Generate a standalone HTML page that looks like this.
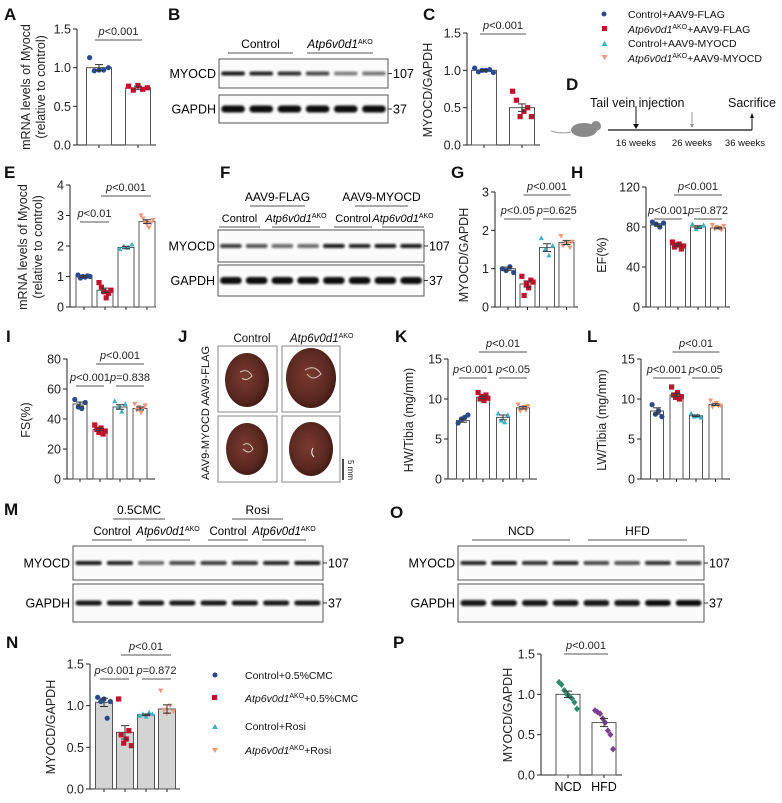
<!DOCTYPE html>
<html><head><meta charset="utf-8"><style>
body{margin:0;background:#fff}
svg{display:block;font-family:"Liberation Sans",Arial,sans-serif}
</style></head><body>
<svg id="fig" width="782" height="803" viewBox="0 0 782 803" xmlns="http://www.w3.org/2000/svg">
<defs>
<filter id="blur" x="-20%" y="-100%" width="140%" height="300%"><feGaussianBlur stdDeviation="1.1"/></filter>
<radialGradient id="heart" cx="45%" cy="45%" r="60%"><stop offset="0" stop-color="#7a3a30"/><stop offset="0.7" stop-color="#5a2820"/><stop offset="1" stop-color="#3a1812"/></radialGradient>
</defs>
<g id="static" font-size="11" fill="#111">
<g font-weight="bold" font-size="17">
<text x="4" y="20">A</text><text x="168" y="20">B</text><text x="423" y="20">C</text><text x="566" y="90">D</text>
<text x="4" y="178">E</text><text x="220" y="178">F</text><text x="451" y="178">G</text><text x="571" y="178">H</text>
<text x="6" y="342">I</text><text x="178" y="342">J</text><text x="395" y="342">K</text><text x="587" y="342">L</text>
<text x="4" y="515">M</text><text x="390" y="518">O</text><text x="6" y="648">N</text><text x="393" y="648">P</text>
</g>
<g font-size="10.5">
<circle cx="604" cy="14" r="2.5" fill="#2b4a8b"/><text x="628" y="18">Control+AAV9-FLAG</text>
<rect x="602" y="26" width="5" height="5" fill="#c0132b"/><text x="628" y="33"><tspan font-style="italic">Atp6v0d1</tspan><tspan font-size="7" dy="-4">AKO</tspan><tspan dy="4">+AAV9-FLAG</tspan></text>
<path d="M601.5 46 L604.5 41 L607.5 46Z" fill="#3fb0c9"/><text x="628" y="47">Control+AAV9-MYOCD</text>
<path d="M601.5 55 L604.5 60 L607.5 55Z" fill="#f4967a"/><text x="628" y="62"><tspan font-style="italic">Atp6v0d1</tspan><tspan font-size="7" dy="-4">AKO</tspan><tspan dy="4">+AAV9-MYOCD</tspan></text>
</g>
<g>
<ellipse cx="584" cy="130" rx="13" ry="7" fill="#8a8a8a"/><circle cx="596" cy="126" r="5" fill="#8a8a8a"/><path d="M571 132 Q560 134 551 131" stroke="#aaa" fill="none" stroke-width="1.2"/>
<line x1="608" y1="130" x2="752" y2="130" stroke="#111" stroke-width="1.3"/>
<line x1="636" y1="106" x2="636" y2="127" stroke="#111"/><path d="M633 124 L636 129 L639 124Z"/>
<line x1="692" y1="112" x2="692" y2="127" stroke="#999"/><path d="M690 124 L692 128 L694 124Z" fill="#999"/>
<line x1="752" y1="130" x2="752" y2="115" stroke="#111"/><path d="M750 118 L752 113 L754 118Z"/>
<text x="590" y="107" font-size="12.5">Tail vein injection</text>
<text x="728" y="107" font-size="12.5">Sacrifice</text>
<g font-size="9.5"><text x="636" y="146" text-anchor="middle">16 weeks</text><text x="692" y="146" text-anchor="middle">26 weeks</text><text x="745" y="146" text-anchor="middle">36 weeks</text></g>
</g>
<g>
<text x="252" y="342" text-anchor="middle" font-size="11.5">Control</text>
<text x="290" y="342" font-size="11.5" font-style="italic">Atp6v0d1<tspan font-size="7" dy="-4" font-style="normal">AKO</tspan></text>
<text transform="rotate(-90 209 413)" x="209" y="413" text-anchor="middle" font-size="11">AAV9-MYOCD AAV9-FLAG</text>
<rect x="218" y="346" width="59" height="66" fill="#fff" stroke="#888"/><rect x="282" y="346" width="58" height="66" fill="#fff" stroke="#888"/>
<rect x="218" y="416" width="59" height="66" fill="#fff" stroke="#888"/><rect x="282" y="416" width="58" height="66" fill="#fff" stroke="#888"/>
<ellipse cx="247" cy="380" rx="22" ry="27" fill="url(#heart)"/><ellipse cx="311" cy="378" rx="25" ry="30" fill="url(#heart)"/>
<ellipse cx="247" cy="449" rx="21" ry="26" fill="url(#heart)"/><ellipse cx="311" cy="449" rx="22" ry="27" fill="url(#heart)"/>
<path d="M240 372 q8 -4 12 4 q-6 6 -10 2" stroke="#d9c4b8" fill="none"/><path d="M305 370 q10 -6 16 4 q-8 8 -14 0" stroke="#d9c4b8" fill="none"/>
<path d="M243 445 q6 -4 10 4 q-4 6 -10 0" stroke="#d9c4b8" fill="none"/><path d="M313 448 q-3 5 1 9" stroke="#eee" fill="none"/>
<line x1="343" y1="459" x2="343" y2="480" stroke="#111" stroke-width="1.5"/>
<text transform="rotate(90 348 460)" x="348" y="460" font-size="8">5 mm</text>
</g>
<g font-size="10.5">
<circle cx="215" cy="675" r="2.5" fill="#2b4a8b"/><text x="245" y="679">Control+0.5%CMC</text>
<rect x="212" y="695" width="5" height="5" fill="#c0132b"/><text x="245" y="702"><tspan font-style="italic">Atp6v0d1</tspan><tspan font-size="7" dy="-4">AKO</tspan><tspan dy="4">+0.5%CMC</tspan></text>
<path d="M212 729 L215 724 L218 729Z" fill="#3fb0c9"/><text x="245" y="730">Control+Rosi</text>
<path d="M212 748 L215 753 L218 748Z" fill="#f4967a"/><text x="245" y="754"><tspan font-style="italic">Atp6v0d1</tspan><tspan font-size="7" dy="-4">AKO</tspan><tspan dy="4">+Rosi</tspan></text>
</g>
</g>
<g id="dyn"></g>
</svg>
<script>
// ---------- DATA ----------
const aCats = ["Control", "Atp6v0d1AKO"];
const aMeans = [1.0, 0.74];
const aSems = [0.04, 0.02];
const aPts = [[1.13, 0.96, 0.97, 0.97, 1.0], [0.76, 0.71, 0.77, 0.72, 0.74]];
const aTicks = [0, 0.5, 1.0, 1.5];
const aTickLabels = ["0.0", "0.5", "1.0", "1.5"];

const cMeans = [1.0, 0.5];
const cSems = [0.01, 0.05];
const cPts = [[1.03, 0.98, 1.0, 1.0, 1.01, 0.97], [0.72, 0.6, 0.38, 0.45, 0.5, 0.38]];

const eMeans = [1.0, 0.55, 1.95, 2.8];
const eSems = [0.03, 0.07, 0.04, 0.06];
const ePts = [[1.05, 0.95, 1.0, 0.98, 1.02, 1.0], [0.8, 0.65, 0.5, 0.3, 0.45, 0.55], [1.9, 2.0, 1.95, 2.05], [3.0, 2.9, 2.8, 2.7, 2.6, 2.75, 2.85]];
const eTicks = [0, 1, 2, 3, 4];

const gMeans = [1.0, 0.6, 1.55, 1.68];
const gSems = [0.04, 0.08, 0.1, 0.05];
const gPts = [[1.0, 0.95, 1.05, 0.9], [0.8, 0.3, 0.6, 0.5, 0.7, 0.65], [1.8, 1.5, 1.35, 1.6], [1.85, 1.6, 1.7, 1.65, 1.55, 1.7]];
const gTicks = [0, 1, 2, 3];

const hMeans = [82, 62, 80, 79];
const hSems = [1.2, 1.0, 1.2, 0.8];
const hPts = [[85, 83, 80, 84], [65, 60, 62, 63, 58, 61], [83, 78, 80, 82], [82, 78, 80, 79, 77, 81]];
const hTicks = [0, 40, 80, 120];

const iMeans = [50, 33, 48, 47];
const iSems = [1.3, 0.8, 1.5, 1.0];
const iPts = [[53, 48, 47, 51], [36, 33, 31, 34, 30, 32], [52, 48, 45, 50], [50, 46, 48, 44, 47, 49]];
const iTicks = [0, 20, 40, 60, 80];

const kMeans = [7.3, 10.2, 7.7, 8.9];
const kSems = [0.2, 0.15, 0.3, 0.15];
const kPts = [[7.0, 7.5, 7.7, 8.0], [10.8, 10.0, 10.3, 9.8, 10.5, 10.1], [8.2, 7.3, 7.1, 8.0], [9.3, 8.5, 8.8, 9.0, 8.6, 9.1]];
const lMeans = [8.5, 10.5, 7.9, 9.3];
const lSems = [0.4, 0.2, 0.1, 0.1];
const lPts = [[9.3, 8.1, 8.5, 7.8], [11.5, 10.5, 10.2, 10.8, 10.0, 10.3], [8.2, 7.8, 7.9, 7.7], [9.8, 9.0, 9.3, 9.5, 9.1, 9.2]];
const klTicks = [0, 5, 10, 15];

const nMeans = [1.04, 0.68, 0.89, 0.96];
const nSems = [0.05, 0.08, 0.01, 0.05];
const nPts = [[1.1, 1.05, 1.08, 0.85, 1.05], [1.08, 0.65, 0.55, 0.6, 0.7, 0.52], [0.88, 0.9, 0.87, 0.92, 0.9], [1.18, 0.95, 0.9, 1.0, 0.93]];

const pCats = ["NCD", "HFD"];
const pMeans = [1.0, 0.65];
const pSems = [0.04, 0.05];
const pPts = [[1.15, 1.12, 1.05, 1.0, 0.98, 0.95, 0.9, 0.82], [0.8, 0.78, 0.76, 0.7, 0.65, 0.55, 0.5, 0.32]];

// ---------- HELPERS ----------
const NS = "http://www.w3.org/2000/svg";
const root = document.getElementById("dyn");
function mk(tag, attrs, parent) {
  const e = document.createElementNS(NS, tag);
  for (const k in attrs) e.setAttribute(k, attrs[k]);
  (parent || root).appendChild(e);
  return e;
}
function txt(x, y, s, attrs, parent) {
  const t = mk("text", Object.assign({x: x, y: y}, attrs || {}), parent);
  t.textContent = s;
  return t;
}
const COLORS4 = ["#2b4a8b", "#c0132b", "#3fb0c9", "#f4967a"];
const SHAPES4 = ["circle", "square", "up", "down"];
function marker(g, shape, cx, cy, col, r) {
  let e;
  if (shape === "circle") e = mk("circle", {cx: cx, cy: cy, r: r, fill: col}, g);
  else if (shape === "square") e = mk("rect", {x: cx - r, y: cy - r, width: 2 * r, height: 2 * r, fill: col}, g);
  else if (shape === "up") e = mk("path", {d: `M${cx - r} ${cy + r * 0.8} L${cx} ${cy - r} L${cx + r} ${cy + r * 0.8}Z`, fill: col}, g);
  else if (shape === "diamond") e = mk("path", {d: `M${cx} ${cy - r * 1.1} L${cx + r} ${cy} L${cx} ${cy + r * 1.1} L${cx - r} ${cy}Z`, fill: col}, g);
  else e = mk("path", {d: `M${cx - r} ${cy - r * 0.8} L${cx} ${cy + r} L${cx + r} ${cy - r * 0.8}Z`, fill: col}, g);
  return e;
}
function chart(cfg, means, sems, pts, ticks, tickLabels) {
  const g = mk("g", {});
  
  
  const max = ticks[ticks.length - 1];
  const ys = v => cfg.y0 - v / max * (cfg.y0 - cfg.yTop);
  const xs = i => cfg.x0 + cfg.first + i * cfg.step;
  const ya = mk("line", {x1: cfg.x0, y1: cfg.y0, x2: cfg.x0, y2: cfg.yTop, stroke: "#222", "stroke-width": 1}, g);
  
  const xa = mk("line", {x1: cfg.x0, y1: cfg.y0, x2: cfg.xEnd, y2: cfg.y0, stroke: "#222", "stroke-width": 1}, g);
  
  ticks.forEach((t, i) => {
    mk("line", {x1: cfg.x0 - 4, y1: ys(t), x2: cfg.x0, y2: ys(t), stroke: "#222"}, g);
    const lab = txt(cfg.x0 - 6, ys(t) + 4.5, tickLabels ? tickLabels[i] : String(t), {"text-anchor": "end", "font-size": 12.5, fill: "#222"}, g);
    
  });
  means.forEach((m, i) => {
    const cx = xs(i);
    const col = cfg.colors ? cfg.colors[i] : COLORS4[i];
    const bar = mk("rect", {x: cx - cfg.bw / 2, y: ys(m), width: cfg.bw, height: cfg.y0 - ys(m), fill: cfg.fill || "#fff", stroke: "#555", "stroke-width": 1}, g);
    
    
    mk("line", {x1: cx, y1: cfg.y0, x2: cx, y2: cfg.y0 + 3, stroke: "#222"}, g);
    const n = pts[i].length;
    pts[i].forEach((v, j) => {
      const off = n > 1 ? (j / (n - 1) - 0.5) * cfg.bw * 0.75 : 0;
      const p = marker(g, cfg.shapes ? cfg.shapes[i] : SHAPES4[i], cx + off, ys(v), col, cfg.r || 2.6);
      
      
    });
    const s = sems[i];
    mk("line", {x1: cx, y1: ys(m - s), x2: cx, y2: ys(m + s), stroke: "#333"}, g);
    mk("line", {x1: cx - 4, y1: ys(m + s), x2: cx + 4, y2: ys(m + s), stroke: "#333"}, g);
    mk("line", {x1: cx - 4, y1: ys(m - s), x2: cx + 4, y2: ys(m - s), stroke: "#333"}, g);
  });
  if (cfg.title) {
    cfg.title.forEach((line, k) => {
      const tx = cfg.titleX + k * 15;
      const t = txt(tx, cfg.titleY, line, {"text-anchor": "middle", "font-size": 12.5, transform: `rotate(-90 ${tx} ${cfg.titleY})`, fill: "#222"}, g);
      
    });
  }
  (cfg.sig || []).forEach(sg => {
    mk("line", {x1: xs(sg[0]) - 4, y1: sg[2], x2: xs(sg[1]) + 4, y2: sg[2], stroke: "#555", "stroke-width": 1}, g);
    const t = txt((xs(sg[0]) + xs(sg[1])) / 2, sg[2] - 5, "", {"text-anchor": "middle", "font-size": 11, fill: "#222"}, g);
    
    const a = document.createElementNS(NS, "tspan"); a.setAttribute("font-style", "italic"); a.textContent = "p"; t.appendChild(a);
    const b = document.createElementNS(NS, "tspan"); b.textContent = sg[3]; t.appendChild(b);
  });
  return {g: g, xs: xs, ys: ys};
}

// ---------- CHARTS ----------
chart({name: "chart-a", x0: 77, y0: 145, yTop: 29, xEnd: 156, first: 22, step: 39, bw: 25, colors: ["#2b4a8b", "#c0132b"], shapes: ["circle", "square"],
  title: ["mRNA levels of Myocd", "(relative to control)"], titleX: 30, titleY: 87, sig: [[0, 1, 40, "<0.001"]]}, aMeans, aSems, aPts, aTicks, aTickLabels);
chart({name: "chart-c", x0: 467, y0: 145, yTop: 33, xEnd: 540, first: 17, step: 38, bw: 25, colors: ["#2b4a8b", "#c0132b"], shapes: ["circle", "square"],
  title: ["MYOCD/GAPDH"], titleX: 432, titleY: 90, sig: [[0, 1, 34, "<0.001"]]}, cMeans, cSems, cPts, aTicks, aTickLabels);
chart({name: "chart-e", x0: 70, y0: 307, yTop: 185, xEnd: 156, first: 14, step: 21, bw: 16,
  title: ["mRNA levels of Myocd", "(relative to control)"], titleX: 27, titleY: 247, sig: [[0, 1, 222, "<0.01"], [1, 3, 196, "<0.001"]]}, eMeans, eSems, ePts, eTicks);
chart({name: "chart-g", x0: 495, y0: 307, yTop: 192, xEnd: 578, first: 13, step: 19.5, bw: 15,
  title: ["MYOCD/GAPDH"], titleX: 468, titleY: 255, sig: [[0, 1, 219, "<0.05"], [2, 3, 219, "=0.625"], [1, 3, 195, "<0.001"]]}, gMeans, gSems, gPts, gTicks);
chart({name: "chart-h", x0: 646, y0: 307, yTop: 187, xEnd: 730, first: 12, step: 20, bw: 15,
  title: ["EF(%)"], titleX: 606, titleY: 255, sig: [[0, 1, 219, "<0.001"], [2, 3, 219, "=0.872"], [1, 3, 195, "<0.001"]]}, hMeans, hSems, hPts, hTicks);
chart({name: "chart-i", x0: 67, y0: 479, yTop: 359, xEnd: 155, first: 13, step: 20, bw: 14,
  title: ["FS(%)"], titleX: 30, titleY: 420, sig: [[0, 1, 386, "<0.001"], [2, 3, 386, "=0.838"], [1, 3, 364, "<0.001"]]}, iMeans, iSems, iPts, iTicks);
chart({name: "chart-k", x0: 448, y0: 479, yTop: 359, xEnd: 537, first: 15, step: 20, bw: 13,
  title: ["HW/Tibia (mg/mm)"], titleX: 413, titleY: 420, sig: [[0, 1, 378, "<0.001"], [2, 3, 378, "<0.05"], [1, 3, 352, "<0.01"]]}, kMeans, kSems, kPts, klTicks);
chart({name: "chart-l", x0: 641, y0: 479, yTop: 359, xEnd: 730, first: 16, step: 19.5, bw: 13,
  title: ["LW/Tibia (mg/mm)"], titleX: 606, titleY: 420, sig: [[0, 1, 378, "<0.001"], [2, 3, 378, "<0.05"], [1, 3, 352, "<0.01"]]}, lMeans, lSems, lPts, klTicks);
chart({name: "chart-n", x0: 90, y0: 789, yTop: 664, xEnd: 180, first: 14, step: 21, bw: 17, fill: "#d4d4d4",
  title: ["MYOCD/GAPDH"], titleX: 55, titleY: 727, sig: [[0, 1, 679, "<0.001"], [2, 3, 679, "=0.872"], [1, 3, 655, "<0.01"]]}, nMeans, nSems, nPts, aTicks, aTickLabels);
const pc = chart({name: "chart-p", x0: 541, y0: 775, yTop: 654, xEnd: 622, first: 27, step: 36, bw: 24, colors: ["#2e8b6a", "#7b3f8f"], shapes: ["diamond", "diamond"], r: 3,
  title: ["MYOCD/GAPDH"], titleX: 512, titleY: 715, sig: [[0, 1, 654, "<0.001"]]}, pMeans, pSems, pPts, aTicks, aTickLabels);
pCats.forEach((c, i) => {
  const t = txt(pc.xs(i), 791, c, {"text-anchor": "middle", "font-size": 12.5});
  
});

// ---------- BLOTS ----------
function blot(name, x1, x2, y1, y2, lanes, label, kda, intens, thick) {
  const g = mk("g", {});
  
  
  mk("rect", {x: x1, y: y1, width: x2 - x1, height: y2 - y1, fill: "#fbfbfb", stroke: "#555", "stroke-width": 1}, g);
  const cy = (y1 + y2) / 2;
  const w = (x2 - x1) / lanes;
  for (let i = 0; i < lanes; i++) {
    const cx = x1 + w * (i + 0.5);
    const op = intens ? intens[i] : 0.9;
    const b = mk("rect", {x: cx - w * 0.42, y: cy - thick / 2, width: w * 0.84, height: thick, rx: thick / 2, fill: "#111", opacity: op, filter: "url(#blur)"}, g);
    
  }
  txt(x1 - 3, cy + 4.5, label, {"text-anchor": "end", "font-size": 12.5}, g);
  mk("line", {x1: x2, y1: cy, x2: x2 + 4, y2: cy, stroke: "#333"}, g);
  txt(x2 + 5, cy + 4.5, kda, {"font-size": 12.5}, g);
}
blot("blot-b-myocd", 219, 388, 59, 88, 6, "MYOCD", "107", [0.95, 0.9, 0.85, 0.75, 0.5, 0.55], 4);
blot("blot-b-gapdh", 219, 388, 95, 123, 6, "GAPDH", "37", [1, 1, 1, 1, 1, 1], 7);
blot("blot-f-myocd", 218, 424, 230, 262, 8, "MYOCD", "107", [0.8, 0.7, 0.6, 0.6, 0.95, 0.9, 0.95, 0.95], 4);
blot("blot-f-gapdh", 218, 424, 265, 296, 8, "GAPDH", "37", [1, 1, 1, 1, 1, 1, 1, 1], 7);
blot("blot-m-myocd", 73, 323, 546, 580, 8, "MYOCD", "107", [0.95, 0.9, 0.6, 0.75, 0.8, 0.85, 0.9, 0.95], 4);
blot("blot-m-gapdh", 73, 323, 584, 622, 8, "GAPDH", "37", [0.95, 0.95, 0.95, 0.95, 0.95, 0.95, 0.95, 0.95], 5);
blot("blot-o-myocd", 458, 704, 546, 580, 8, "MYOCD", "107", [0.9, 0.95, 0.85, 0.9, 0.75, 0.7, 0.85, 0.8], 4);
blot("blot-o-gapdh", 458, 704, 584, 622, 8, "GAPDH", "37", [0.95, 0.95, 0.95, 0.95, 0.95, 0.95, 1, 1], 6);

// ---------- BLOT HEADERS ----------
function header(x1, x2, y, s, italicSup, name, fs) {
  const t = txt((x1 + x2) / 2, y - 5, "", {"text-anchor": "middle", "font-size": fs || 12});
  
  
  if (italicSup) {
    const a = document.createElementNS(NS, "tspan"); a.setAttribute("font-style", "italic"); a.textContent = "Atp6v0d1"; t.appendChild(a);
    const b = document.createElementNS(NS, "tspan"); b.setAttribute("font-size", "7"); b.setAttribute("dy", "-4"); b.textContent = "AKO"; t.appendChild(b);
  } else t.textContent = s;
  mk("line", {x1: x1, y1: y, x2: x2, y2: y, stroke: "#555"});
}
header(228, 293, 53, "Control", false, "header-control");
header(307, 373, 53, "", true, "header-ko");
header(250, 305, 206, "AAV9-FLAG", false, "header-aav9-flag");
header(355, 408, 206, "AAV9-MYOCD", false, "header-aav9-myocd");
header(219, 260, 227, "Control", false, "header-control", 11);
header(272, 320, 227, "", true, "header-ko", 11);
header(334, 372, 227, "Control", false, "header-control", 11);
header(382, 424, 227, "", true, "header-ko", 11);
header(113, 165, 519, "0.5CMC", false, "header-cmc");
header(232, 283, 519, "Rosi", false, "header-rosi");
header(92, 132, 540, "Control", false, "header-control", 11.5);
header(146, 190, 540, "", true, "header-ko", 11.5);
header(208, 248, 540, "Control", false, "header-control", 11.5);
header(262, 306, 540, "", true, "header-ko", 11.5);
header(472, 570, 540, "NCD", false, "header-ncd");
header(588, 687, 540, "HFD", false, "header-hfd");
</script>
</body></html>
